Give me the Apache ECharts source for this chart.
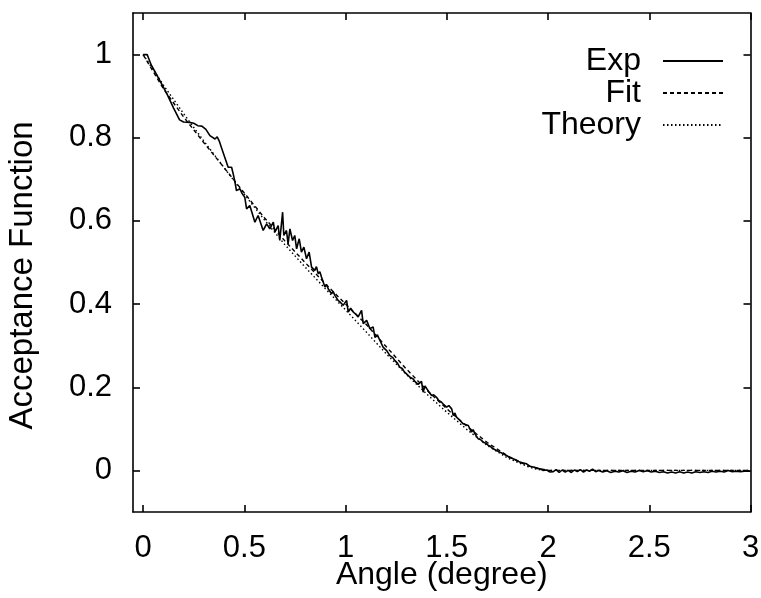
<!DOCTYPE html>
<html>
<head>
<meta charset="utf-8">
<script src="https://cdn.jsdelivr.net/npm/echarts@6/dist/echarts.min.js"></script>
<style>html,body{margin:0;padding:0;background:#fff}#c{width:761px;height:598px}</style>
</head>
<body>
<div id="c"></div>
<script>
var xTicks = [0, 0.5, 1, 1.5, 2, 2.5, 3];
var yTicks = [0, 0.2, 0.4, 0.6, 0.8, 1];

var expData = [
[0,1.0],[0.02,1.0],[0.04,0.975],[0.06,0.958],[0.08,0.94],[0.1,0.922],[0.12,0.903],[0.15,0.872],[0.18,0.843],[0.2,0.838],
[0.23,0.837],[0.25,0.835],[0.27,0.829],[0.29,0.828],[0.31,0.82],[0.33,0.805],[0.355,0.797],[0.366,0.802],[0.376,0.792],[0.39,0.772],
[0.404,0.752],[0.42,0.729],[0.437,0.729],[0.445,0.713],[0.453,0.695],[0.461,0.673],[0.478,0.677],[0.49,0.665],[0.502,0.657],[0.511,0.629],
[0.527,0.637],[0.552,0.597],[0.568,0.613],[0.593,0.577],[0.61,0.593],[0.626,0.581],[0.643,0.597],[0.651,0.573],[0.667,0.589],[0.675,0.553],
[0.689,0.621],[0.695,0.565],[0.708,0.577],[0.716,0.545],[0.725,0.581],[0.738,0.553],[0.749,0.565],[0.758,0.533],[0.771,0.557],[0.782,0.525],
[0.794,0.537],[0.807,0.509],[0.82,0.525],[0.832,0.489],[0.848,0.481],[0.856,0.49],[0.865,0.473],[0.873,0.478],[0.881,0.465],[0.89,0.462],
[0.898,0.441],[0.906,0.447],[0.914,0.437],[0.922,0.44],[0.931,0.425],[0.939,0.43],[0.947,0.421],[0.955,0.418],[0.963,0.409],[0.975,0.404],
[0.988,0.397],[1.005,0.409],[1.013,0.381],[1.025,0.39],[1.038,0.381],[1.05,0.376],[1.062,0.369],[1.079,0.385],[1.087,0.353],[1.104,0.361],
[1.12,0.341],[1.136,0.345],[1.145,0.32],[1.157,0.326],[1.169,0.313],[1.178,0.31],[1.186,0.296],[1.195,0.298],[1.203,0.288],[1.211,0.284],
[1.219,0.276],[1.232,0.272],[1.244,0.264],[1.256,0.258],[1.268,0.248],[1.28,0.245],[1.29,0.237],[1.301,0.232],[1.31,0.232],[1.318,0.224],
[1.334,0.22],[1.342,0.214],[1.35,0.218],[1.358,0.207],[1.367,0.208],[1.375,0.214],[1.383,0.188],[1.392,0.203],[1.4,0.2],[1.41,0.19],
[1.425,0.18],[1.435,0.182],[1.449,0.176],[1.46,0.168],[1.474,0.164],[1.485,0.158],[1.499,0.152],[1.51,0.156],[1.524,0.148],[1.532,0.132],
[1.54,0.138],[1.548,0.128],[1.556,0.126],[1.565,0.12],[1.573,0.116],[1.581,0.112],[1.59,0.114],[1.606,0.108],[1.614,0.1],[1.622,0.092],
[1.63,0.098],[1.639,0.088],[1.647,0.082],[1.655,0.076],[1.665,0.075],[1.68,0.068],[1.69,0.066],[1.705,0.06],[1.715,0.058],[1.729,0.052],
[1.745,0.048],[1.762,0.044],[1.778,0.04],[1.795,0.036],[1.81,0.031],[1.828,0.028],[1.845,0.024],[1.861,0.02],[1.878,0.018],[1.894,0.016],
[1.91,0.01],[1.927,0.008],[1.945,0.005],[1.96,0.004],[1.975,0.0],[1.993,0.001],[2.01,-0.004],[2.026,-0.003],[2.04,0.002],[2.055,-0.005],
[2.07,0.001],[2.085,-0.004],[2.1,0.0],[2.115,-0.005],[2.13,0.001],[2.145,-0.003],[2.16,0.002],[2.175,-0.004],[2.19,0.001],[2.205,-0.002],
[2.22,0.003],[2.235,-0.003],[2.25,0.0],[2.27,-0.004],[2.29,-0.001],[2.31,-0.005],[2.33,-0.002],[2.35,-0.004],[2.37,-0.001],[2.39,-0.005],
[2.41,-0.002],[2.43,-0.004],[2.45,0.0],[2.47,-0.003],[2.49,-0.001],[2.51,-0.004],[2.53,-0.002],[2.55,-0.005],[2.57,-0.003],[2.59,-0.006],
[2.61,-0.004],[2.63,-0.006],[2.65,-0.003],[2.67,-0.006],[2.69,-0.004],[2.71,-0.006],[2.73,-0.003],[2.75,-0.005],[2.77,-0.003],[2.79,-0.005],
[2.81,-0.002],[2.83,-0.004],[2.85,-0.002],[2.87,-0.004],[2.89,0.0],[2.91,-0.003],[2.93,-0.002],[2.95,-0.003],[2.97,-0.002],[3.0,-0.002]
];

var fitX = [0, 0.1, 0.2, 0.3, 0.4, 0.5, 0.6, 0.7, 0.8, 0.9, 1.0, 1.1, 1.2, 1.3, 1.4, 1.5, 1.6, 1.7, 1.8, 1.9, 2.0, 3.0];
var fitY = [1.0, 0.918, 0.85, 0.788, 0.728, 0.667, 0.607, 0.552, 0.5, 0.449, 0.4, 0.352, 0.298, 0.244, 0.194, 0.148, 0.106, 0.067, 0.035, 0.011, 0.0, 0.0];

var theoryX = [0, 0.1, 0.2, 0.3, 0.4, 0.5, 0.6, 0.7, 0.8, 0.9, 1.0, 1.1, 1.2, 1.3, 1.4, 1.5, 1.6, 1.7, 1.8, 1.9, 1.95, 2.0, 3.0];
var theoryY = [1.0, 0.927, 0.858, 0.792, 0.728, 0.664, 0.602, 0.543, 0.489, 0.437, 0.386, 0.334, 0.281, 0.231, 0.184, 0.14, 0.098, 0.06, 0.03, 0.009, 0.002, 0.0, 0.0];

function pairs(xs, ys) { return xs.map(function (x, i) { return [x, ys[i]]; }); }

var FONT = "'Liberation Sans', Arial, Helvetica, sans-serif";
var chart = echarts.init(document.getElementById('c'), null, {renderer: 'canvas'});

var axisLineStyle = {color: '#000', width: 1.6};
chart.setOption({
  backgroundColor: '#fff',
  animation: false,
  textStyle: {fontFamily: FONT, color: '#000'},
  grid: {left: 133, right: 10.5, top: 13, bottom: 86, containLabel: false, outerBoundsMode: 'none'},
  legend: {
    right: 32, top: 40, orient: 'vertical', align: 'right',
    itemWidth: 60, itemHeight: 14, itemGap: 0,
    itemStyle: {opacity: 0},
    textStyle: {fontFamily: FONT, fontSize: 32, color: '#000', lineHeight: 29, padding: [0, 17, 0, 0]},
    data: ['Exp', 'Fit', 'Theory']
  },
  xAxis: [{
    type: 'value', min: -0.05, max: 3, position: 'bottom',
    name: 'Angle (degree)', nameLocation: 'middle', nameGap: 47, nameMoveOverlap: false,
    nameTextStyle: {fontFamily: FONT, fontSize: 32, color: '#000'},
    axisLine: {show: true, onZero: false, lineStyle: axisLineStyle},
    axisTick: {show: true, inside: true, length: 7, customValues: xTicks, lineStyle: axisLineStyle},
    axisLabel: {customValues: xTicks, fontFamily: FONT, fontSize: 31, color: '#000', margin: 21},
    splitLine: {show: false}
  }, {
    type: 'value', min: -0.05, max: 3, position: 'top',
    axisLine: {show: true, onZero: false, lineStyle: axisLineStyle},
    axisTick: {show: true, inside: true, length: 7, customValues: xTicks, lineStyle: axisLineStyle},
    axisLabel: {show: false},
    splitLine: {show: false}
  }],
  yAxis: [{
    type: 'value', min: -0.1, max: 1.1, position: 'left',
    name: 'Acceptance Function', nameLocation: 'middle', nameGap: 94, nameMoveOverlap: false,
    nameTextStyle: {fontFamily: FONT, fontSize: 33, color: '#000', padding: [0, 26, 0, 0]},
    axisLine: {show: true, onZero: false, lineStyle: axisLineStyle},
    axisTick: {show: true, inside: true, length: 7, customValues: yTicks, lineStyle: axisLineStyle},
    axisLabel: {customValues: yTicks, fontFamily: FONT, fontSize: 31, color: '#000', margin: 21},
    splitLine: {show: false}
  }, {
    type: 'value', min: -0.1, max: 1.1, position: 'right',
    axisLine: {show: true, onZero: false, lineStyle: axisLineStyle},
    axisTick: {show: true, inside: true, length: 7, customValues: yTicks, lineStyle: axisLineStyle},
    axisLabel: {show: false},
    splitLine: {show: false}
  }],
  series: [{
    name: 'Theory', type: 'line', data: pairs(theoryX, theoryY), showSymbol: false, symbol: 'none',
    lineStyle: {color: '#000', width: 1.4, type: [1.5, 2.5]}, itemStyle: {color: '#000'}, z: 2
  }, {
    name: 'Fit', type: 'line', data: pairs(fitX, fitY), showSymbol: false, symbol: 'none',
    lineStyle: {color: '#000', width: 1.4, type: [4, 3]}, itemStyle: {color: '#000'}, z: 3
  }, {
    name: 'Exp', type: 'line', data: expData, showSymbol: false, symbol: 'none',
    lineStyle: {color: '#000', width: 1.6, type: 'solid'}, itemStyle: {color: '#000'}, z: 4
  }]
});
</script>
</body>
</html>
